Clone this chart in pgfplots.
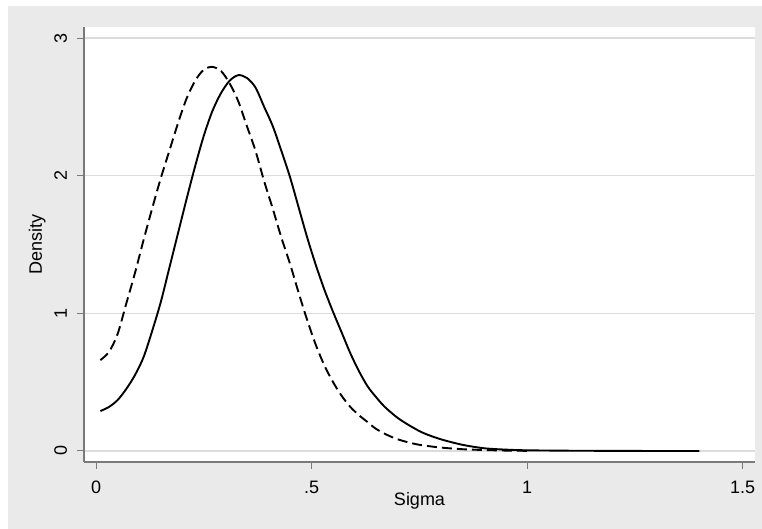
\documentclass[border=0pt]{standalone}
\usepackage{pgfplots}
\pgfplotsset{compat=1.18}
\usepackage{fontspec}
\setmainfont{Liberation Sans}
\definecolor{bggray}{HTML}{EAEAEA}
\definecolor{gridgray}{HTML}{DCDCDC}
\definecolor{axgray}{HTML}{7A7A7A}
\newcommand{\bigf}{\fontsize{18}{21}\selectfont}
\begin{document}
\begin{tikzpicture}[every node/.style={font=\bigf}]
\path[use as bounding box] (-84pt,-67pt) rectangle (678pt,462pt);
\fill[bggray] (-76pt,-67pt) rectangle (678pt,456pt);
\begin{axis}[
  at={(0pt,0pt)}, anchor=south west,
  scale only axis, width=671pt, height=435pt,
  xmin=-0.028, xmax=1.529, ymin=-0.08, ymax=3.08,
  axis x line*=bottom, axis y line*=left,
  xtick pos=bottom, ytick pos=left,
  axis line style={axgray, line width=1.2pt},
  axis background/.style={fill=white},
  tick align=outside, major tick length=7pt,
  tick style={axgray, line width=1pt},
  xtick={0,0.5,1,1.5}, xticklabels={0,.5,1,1.5},
  ytick={0,1,2,3}, yticklabels={0,1,2,3},
  ymajorgrids, major grid style={gridgray, line width=1.2pt},
  tick label style={font=\bigf},
  label style={font=\bigf},
  xticklabel style={anchor=base, inner sep=0pt, yshift=-24pt},
  yticklabel style={rotate=90, anchor=base, inner sep=0pt, yshift=10pt},
  xlabel={Sigma}, ylabel={Density},
  xlabel style={at={(axis description cs:0.5,0)}, anchor=base, inner sep=0pt, yshift=-44pt},
  ylabel style={at={(axis description cs:0,0.5)}, anchor=base, inner sep=0pt, yshift=42pt},
  clip=false,
]
\addplot[black, line width=1.9pt, smooth] coordinates {
(0.01,0.29) (0.03,0.32) (0.05,0.37) (0.07,0.45) (0.09,0.55) (0.11,0.68)
(0.13,0.87) (0.15,1.08) (0.17,1.33) (0.19,1.58) (0.21,1.83) (0.23,2.07)
(0.25,2.29) (0.27,2.47) (0.29,2.60) (0.31,2.69) (0.33,2.73) (0.35,2.71)
(0.37,2.64) (0.39,2.50) (0.41,2.36) (0.43,2.18) (0.45,1.99) (0.47,1.77)
(0.49,1.55) (0.51,1.35) (0.53,1.17) (0.55,1.01) (0.57,0.86) (0.59,0.71)
(0.61,0.58) (0.63,0.47) (0.65,0.39) (0.67,0.32) (0.70,0.24) (0.73,0.18)
(0.76,0.13) (0.80,0.085) (0.85,0.045) (0.90,0.02) (0.95,0.01) (1.00,0.005)
(1.10,0.002) (1.20,0.001) (1.30,0.0) (1.40,0.0)
};
\addplot[black, line width=1.9pt, smooth, dash pattern=on 10pt off 5pt] coordinates {
(0.01,0.66) (0.03,0.72) (0.05,0.85) (0.07,1.07) (0.09,1.29) (0.11,1.53)
(0.13,1.76) (0.15,1.98) (0.17,2.18) (0.19,2.38) (0.21,2.56) (0.23,2.69)
(0.25,2.77) (0.27,2.79) (0.29,2.76) (0.31,2.67) (0.33,2.54) (0.35,2.36)
(0.37,2.18) (0.39,1.96) (0.41,1.76) (0.43,1.55) (0.45,1.36) (0.47,1.15)
(0.49,0.95) (0.51,0.77) (0.53,0.62) (0.55,0.50) (0.57,0.40) (0.59,0.32)
(0.61,0.26) (0.63,0.21) (0.65,0.16) (0.68,0.11) (0.71,0.075) (0.75,0.045)
(0.80,0.025) (0.85,0.013) (0.90,0.007) (0.95,0.003) (1.00,0.001)
};
\end{axis}
\end{tikzpicture}
\end{document}
